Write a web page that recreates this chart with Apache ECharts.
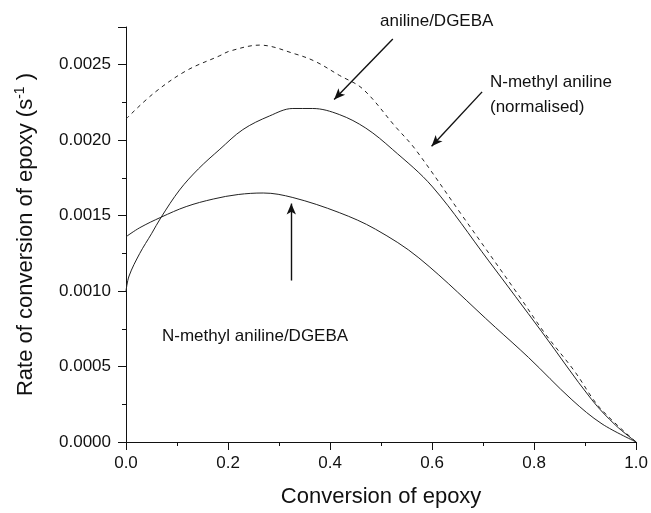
<!DOCTYPE html>
<html>
<head>
<meta charset="utf-8">
<script src="https://cdn.jsdelivr.net/npm/echarts@6/dist/echarts.min.js"></script>
<style>
  html, body { margin: 0; padding: 0; background: #fff; }
  #chart { width: 651px; height: 513px; }
</style>
</head>
<body>
<div id="chart"></div>
<script>
// Conversion (x) and rate of epoxy conversion (s^-1) for each system
var convNormalised = [0, 0.054, 0.118, 0.184, 0.203, 0.262, 0.333, 0.372, 0.418, 0.464, 0.528, 0.567, 0.659, 0.770, 0.821, 0.879, 0.928, 1.0];
var rateNormalised = [0.00214, 0.00231, 0.00246, 0.00256, 0.00259, 0.00263, 0.00257, 0.00252, 0.00243, 0.00234, 0.00209, 0.00194, 0.00150, 0.00097, 0.00072, 0.00047, 0.00023, 0.0];

var convAniline = [0, 0.006, 0.027, 0.050, 0.069, 0.105, 0.142, 0.184, 0.229, 0.281, 0.327, 0.366, 0.418, 0.470, 0.522, 0.601, 0.711, 0.815, 0.913, 0.960, 1.0];
var rateAniline = [0.00100, 0.00110, 0.00125, 0.00138, 0.00149, 0.00167, 0.00181, 0.00194, 0.00207, 0.00216, 0.00221, 0.00221, 0.00217, 0.00208, 0.00194, 0.00169, 0.00120, 0.00073, 0.00028, 0.00011, 0.0];

var convNMethyl = [0, 0.027, 0.069, 0.118, 0.171, 0.220, 0.269, 0.327, 0.418, 0.489, 0.574, 0.724, 0.789, 0.874, 0.933, 1.0];
var rateNMethyl = [0.00136, 0.00142, 0.00149, 0.00156, 0.00161, 0.00164, 0.00165, 0.00162, 0.00152, 0.00141, 0.00122, 0.00076, 0.00056, 0.00028, 0.00012, 0.0];

// Annotation arrows in data coordinates: [fromX, fromY, toX, toY]
var arrowAniline = [0.523, 0.00267, 0.408, 0.00227];
var arrowNormalised = [0.698, 0.00232, 0.599, 0.00196];
var arrowNMethyl = [0.324, 0.00107, 0.324, 0.00158];

function pairs(xs, ys) {
  return xs.map(function (x, i) { return [x, ys[i]]; });
}
function arrowLine(a) {
  return [{ coord: [a[0], a[1]] }, { coord: [a[2], a[3]] }];
}

var FONT = '"Liberation Sans", Arial, sans-serif';
var chart = echarts.init(document.getElementById('chart'), null, { renderer: 'canvas' });

chart.setOption({
  animation: false,
  backgroundColor: '#fff',
  grid: { left: 126, right: 13, top: 27, bottom: 68, containLabel: false },
  xAxis: {
    type: 'value', min: 0, max: 1, interval: 0.2,
    name: 'Conversion of epoxy', nameLocation: 'middle', nameGap: 44,
    nameTextStyle: { fontFamily: FONT, fontSize: 22, color: '#111' },
    axisLine: { lineStyle: { color: '#111', width: 1 } },
    axisTick: { length: 8, lineStyle: { color: '#111' } },
    minorTick: { show: true, splitNumber: 2, length: 4, lineStyle: { color: '#111' } },
    splitLine: { show: false },
    axisLabel: { fontFamily: FONT, fontSize: 17, color: '#111', margin: 13,
      formatter: function (v) { return v.toFixed(1); } }
  },
  yAxis: {
    type: 'value', min: 0, max: 0.00275, interval: 0.0005,
    name: 'Rate of conversion of epoxy (s{sup|-1} )',
    nameLocation: 'middle', nameGap: 87, nameRotate: 90,
    nameTextStyle: { fontFamily: FONT, fontSize: 22, color: '#111',
      rich: { sup: { fontFamily: FONT, fontSize: 14, color: '#111', verticalAlign: 'top', padding: [0, 0, 12, 0] } } },
    axisLine: { show: true, lineStyle: { color: '#111', width: 1 } },
    axisTick: { show: true, length: 8, lineStyle: { color: '#111' } },
    minorTick: { show: true, splitNumber: 2, length: 4, lineStyle: { color: '#111' } },
    splitLine: { show: false },
    axisLabel: { fontFamily: FONT, fontSize: 17, color: '#111', margin: 15, showMaxLabel: false,
      formatter: function (v) { return v.toFixed(4); } }
  },
  series: [
    {
      name: 'N-methyl aniline (normalised)', type: 'line', smooth: 0.35, symbol: 'none',
      data: pairs(convNormalised, rateNormalised),
      lineStyle: { color: '#222', width: 1, type: [4, 4] }
    },
    {
      name: 'aniline/DGEBA', type: 'line', smooth: 0.35, symbol: 'none',
      data: pairs(convAniline, rateAniline),
      lineStyle: { color: '#222', width: 1 },
      markLine: {
        silent: true, symbol: ['none', 'arrow'], symbolSize: [7, 11],
        label: { show: false },
        lineStyle: { color: '#111', width: 1.4, type: 'solid' },
        data: [arrowLine(arrowAniline), arrowLine(arrowNormalised), arrowLine(arrowNMethyl)]
      }
    },
    {
      name: 'N-methyl aniline/DGEBA', type: 'line', smooth: 0.35, symbol: 'none',
      data: pairs(convNMethyl, rateNMethyl),
      lineStyle: { color: '#222', width: 1 }
    }
  ],
  graphic: [
    { type: 'text', left: 380, top: 13,
      style: { text: 'aniline/DGEBA', font: '17px ' + FONT, fill: '#111' } },
    { type: 'text', left: 490, top: 70,
      style: { text: 'N-methyl aniline\n(normalised)', font: '17px ' + FONT, fill: '#111', lineHeight: 25 } },
    { type: 'text', left: 162, top: 328,
      style: { text: 'N-methyl aniline/DGEBA', font: '17px ' + FONT, fill: '#111' } }
  ]
});
</script>
</body>
</html>
